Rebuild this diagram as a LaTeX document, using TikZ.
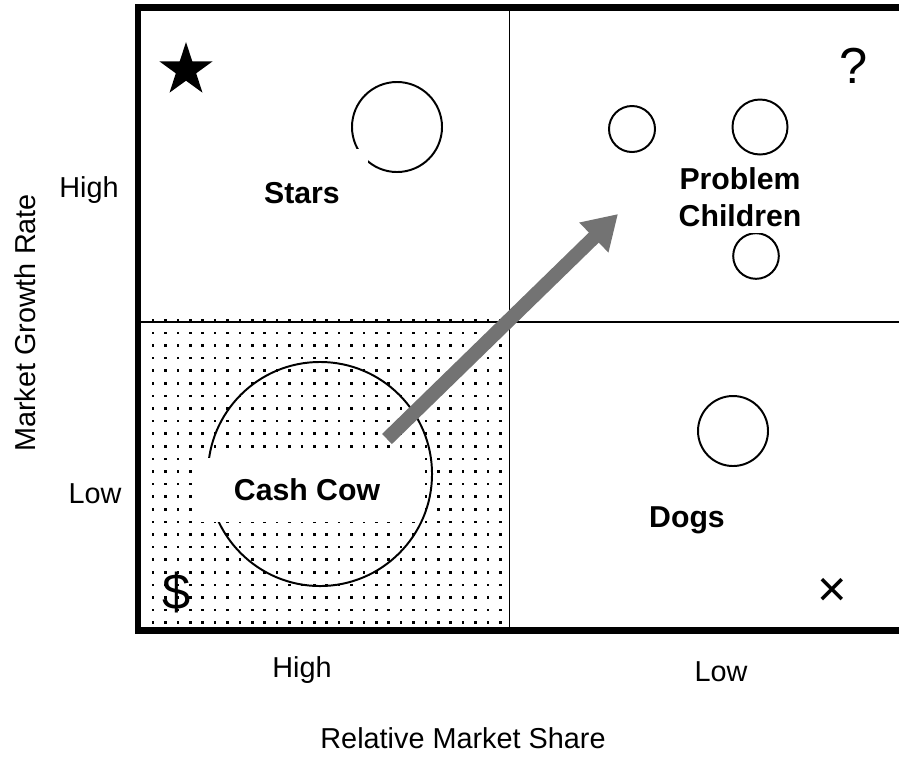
\documentclass[tikz,border=0pt]{standalone}
\usepackage{fontspec}
\setmainfont{Liberation Sans}
\usetikzlibrary{arrows.meta,positioning,shapes.geometric}

\begin{document}
\begin{tikzpicture}[
    x=0.025cm, y=-0.025cm,
    bubble/.style={circle,draw,line width=1.4pt,inner sep=0pt},
    quad/.style={fill=white,inner sep=0pt,align=center,font=\bfseries\fontsize{21.5}{26}\selectfont},
    axis/.style={font=\fontsize{20.5}{24}\selectfont},
    glyph/.style={inner sep=0pt,font=\fontsize{36}{40}\selectfont},
    frame/.style={line width=4.6pt},
    divider/.style={line width=1.4pt},
    growth/.style={line width=10pt,black!55,-{Triangle[length=24pt,width=28pt]}}
]
\useasboundingbox (0,0) rectangle (899,765);

% dotted quadrant (cash cow)
\foreach \i in {0,...,28}
  \foreach \j in {0,...,24}
    \fill ({151.7+12.4*\i},{319+12.6*\j}) rectangle +(2.6,2.6);

\node[bubble,minimum size=2.25cm] (starball) at (397,127) {};
\node[bubble,minimum size=1.15cm] (pcball1) at (632,129) {};
\node[bubble,minimum size=1.375cm] (pcball2) at (760,127) {};
\node[bubble,minimum size=1.14cm] (pcball3) at (756,256) {};
\node[bubble,minimum size=1.75cm] (dogball) at (733,431) {};
\node[bubble,minimum size=5.6cm] (cowball) at (320,474) {};

\node[quad,minimum width=3.3cm,minimum height=2.2cm] (stars) at (302,193) {Stars};
\node[quad,minimum width=5.5cm,minimum height=1.62cm] (cow) at (307,490) {Cash Cow};
\node[quad,minimum width=4.8cm,minimum height=1.8cm] (problem) at (740,197) {Problem\\Children};
\node[quad,inner sep=8pt] (dogs) at (687,520) {Dogs};

% frame and dividers
\coordinate (nw) at (138,7.5);
\coordinate (sw) at (138,630.5);
\coordinate (ne) at (899,7.5);
\coordinate (se) at (899,630.5);
\coordinate (midtop) at (509.5,7.5);
\coordinate (midbot) at (509.5,630.5);
\coordinate (midleft) at (138,322);
\coordinate (midright) at (899,322);
\draw[frame] (ne) -- (nw) -- (sw) -- (se);
\draw[divider] (midtop) -- (midbot);
\draw[divider] (midleft) -- (midright);

\coordinate (tail) at (387,439);
\coordinate (tip) at (618,214);
\draw[growth] (tail) -- (tip);

\node[star,star points=5,star point ratio=2.618,fill,inner sep=0pt,minimum size=1.4cm] (starmark) at (186,70) {};
\node[glyph] (query) at (854,66) {?};
\node[glyph] (dollar) at (177,593) {\$};
\node[glyph] (cross) at (832,592) {×};

\node[axis] (highy) at (89,190) {High};
\node[axis] (lowy) at (95,494) {Low};
\node[axis,rotate=90] (growthrate) at (25,323) {Market Growth Rate};
\node[axis] (highx) at (302,670) {High};
\node[axis] (lowx) at (721,672) {Low};
\node[axis] (share) at (463,738) {Relative Market Share};
\end{tikzpicture}
\end{document}
